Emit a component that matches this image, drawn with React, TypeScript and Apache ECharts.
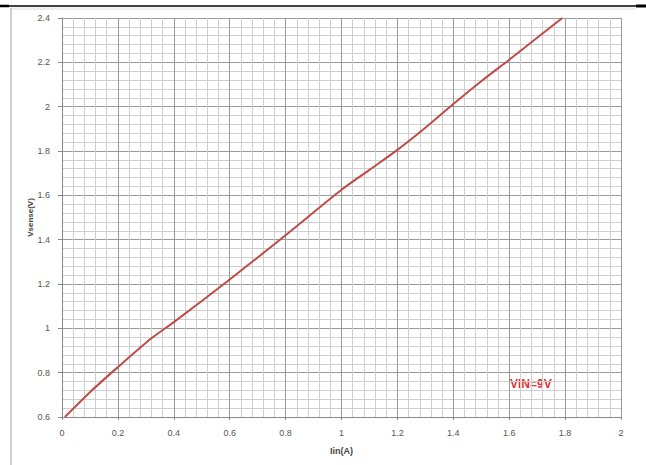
import React, { useEffect, useRef } from "react";
import * as echarts from "echarts";

const iin = [0.01, 0.1, 0.2, 0.32, 0.4, 0.6, 0.8, 1.0, 1.1, 1.2, 1.3, 1.4, 1.5, 1.6, 1.79];
const vsense = [0.6, 0.712, 0.825, 0.955, 1.028, 1.22, 1.42, 1.625, 1.715, 1.805, 1.905, 2.012, 2.115, 2.212, 2.4];
const xName = "Iin(A)";
const yName = "Vsense(V)";
const note = "VIN=9V";

export default function App() {
  const ref = useRef<HTMLDivElement>(null);
  useEffect(() => {
    if (!ref.current) return;
    const chart = echarts.init(ref.current, null, { renderer: "svg" });
    const font = "'Liberation Sans', Arial, sans-serif";
    chart.setOption({
      animation: false,
      backgroundColor: "#ffffff",
      grid: { left: 62, right: 25, top: 18, bottom: 48 },
      xAxis: {
        type: "value",
        min: 0,
        max: 2,
        interval: 0.2,
        name: xName,
        nameLocation: "middle",
        nameGap: 29,
        nameMoveOverlap: false,
        nameTextStyle: { fontSize: 9, fontWeight: "bold", color: "#444", fontFamily: font },
        axisLine: { show: true, lineStyle: { color: "#888", width: 1 } },
        axisTick: { show: true, length: 3, lineStyle: { color: "#888" } },
        axisLabel: { fontSize: 9, color: "#555", margin: 11, fontFamily: font },
        splitLine: { show: true, lineStyle: { color: "#9a9a9a", width: 1 } },
        minorTick: { show: false, splitNumber: 5 },
        minorSplitLine: { show: true, lineStyle: { color: "#cfcfcf", width: 1 } },
      },
      yAxis: {
        type: "value",
        min: 0.6,
        max: 2.4,
        interval: 0.2,
        name: yName,
        nameLocation: "middle",
        nameGap: 28,
        nameMoveOverlap: false,
        nameRotate: 90,
        nameTextStyle: { fontSize: 8, fontWeight: "bold", color: "#444", fontFamily: font },
        axisLine: { show: true, lineStyle: { color: "#888", width: 1 } },
        axisTick: { show: true, length: 4, lineStyle: { color: "#888" } },
        axisLabel: { fontSize: 9, color: "#555", margin: 12, fontFamily: font },
        splitLine: { show: true, lineStyle: { color: "#9a9a9a", width: 1 } },
        minorTick: { show: false, splitNumber: 5 },
        minorSplitLine: { show: true, lineStyle: { color: "#cfcfcf", width: 1 } },
      },
      series: [
        {
          type: "line",
          data: iin.map((x, i) => [x, vsense[i]]),
          showSymbol: false,
          smooth: 0.25,
          lineStyle: { color: "#bd4b4b", width: 2 },
        },
      ],
      graphic: [
        { type: "line", shape: { x1: 0, y1: 6, x2: 636, y2: 6 }, style: { stroke: "#000", lineWidth: 1.3 } },
        { type: "line", shape: { x1: 0, y1: 6, x2: 9, y2: 6 }, style: { stroke: "#000", lineWidth: 2.5 } },
        { type: "line", shape: { x1: 636, y1: 6, x2: 646, y2: 6 }, style: { stroke: "#000", lineWidth: 3 } },
        { type: "rect", shape: { x: 10, y: 7.5, width: 626, height: 2.5 }, style: { fill: "#ececec" } },
        { type: "line", shape: { x1: 11, y1: 8, x2: 11, y2: 465 }, style: { stroke: "#cfcfcf", lineWidth: 2 } },
        {
          type: "text",
          left: 510,
          top: 378,
          style: { text: note, fill: "#e0303a", fontSize: 12, fontWeight: "bold", fontFamily: font },
        },
      ],
    });
    return () => chart.dispose();
  }, []);
  return (
    <div
      ref={ref}
      style={{ position: "fixed", left: 0, top: 0, width: 646, height: 465, background: "#fff" }}
    />
  );
}
